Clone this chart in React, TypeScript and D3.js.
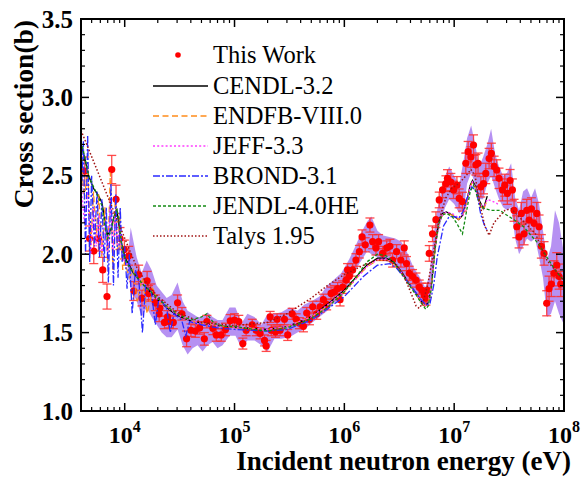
import React from 'react';
import * as d3 from 'd3';

// ---------- data ----------
const xTickExps = [4, 5, 6, 7, 8];
const yTickLabels = ['1.0', '1.5', '2.0', '2.5', '3.0', '3.5'];

// This Work: [energy eV, cross section b, uncertainty b]
const thisWork: [number, number, number][] = [
  [4.33e3, 2.53, 0.09], [4.78e3, 2.10, 0.08], [5.23e3, 2.02, 0.08], [5.77e3, 2.10, 0.08],
  [6.31e3, 1.90, 0.08], [6.90e3, 1.73, 0.08], [7.62e3, 2.54, 0.09], [8.34e3, 2.35, 0.09],
  [9.06e3, 2.10, 0.07], [9.93e3, 2.03, 0.06], [1.087e4, 1.99, 0.06], [1.21e4, 1.765, 0.06],
  [1.34e4, 1.87, 0.06], [1.435e4, 1.72, 0.05], [1.60e4, 1.83, 0.06], [1.65e4, 1.75, 0.05],
  [1.73e4, 1.76, 0.05], [1.90e4, 1.69, 0.05], [2.06e4, 1.62, 0.05], [2.09e4, 1.655, 0.05],
  [2.30e4, 1.565, 0.04], [2.46e4, 1.60, 0.04], [2.51e4, 1.57, 0.04], [2.77e4, 1.565, 0.04],
  [3.03e4, 1.69, 0.05], [3.32e4, 1.62, 0.04], [3.66e4, 1.46, 0.05], [4.01e4, 1.515, 0.04],
  [4.40e4, 1.51, 0.04], [4.81e4, 1.53, 0.04], [5.31e4, 1.46, 0.04], [5.60e4, 1.57, 0.04],
  [6.35e4, 1.527, 0.04], [6.82e4, 1.485, 0.04], [7.57e4, 1.485, 0.04], [8.28e4, 1.52, 0.04],
  [9.14e4, 1.575, 0.04], [1.0e5, 1.58, 0.04], [1.094e5, 1.57, 0.04], [1.19e5, 1.43, 0.035],
  [1.276e5, 1.515, 0.035], [1.45e5, 1.55, 0.035], [1.575e5, 1.515, 0.035], [1.71e5, 1.495, 0.035],
  [1.875e5, 1.45, 0.035], [1.94e5, 1.415, 0.035], [2.11e5, 1.60, 0.035], [2.16e5, 1.515, 0.035],
  [2.36e5, 1.505, 0.035], [2.44e5, 1.585, 0.035], [2.60e5, 1.515, 0.035], [2.85e5, 1.585, 0.035],
  [3.05e5, 1.485, 0.035], [3.35e5, 1.62, 0.035], [3.64e5, 1.585, 0.035], [3.90e5, 1.56, 0.035],
  [4.24e5, 1.54, 0.035], [4.54e5, 1.625, 0.035], [4.81e5, 1.585, 0.035], [5.15e5, 1.665, 0.035],
  [5.60e5, 1.62, 0.035], [6.01e5, 1.665, 0.035], [6.44e5, 1.71, 0.035], [6.90e5, 1.68, 0.035],
  [7.57e5, 1.75, 0.04], [8.11e5, 1.76, 0.04], [8.69e5, 1.78, 0.04], [9.14e5, 1.71, 0.04],
  [9.66e5, 1.79, 0.04], [1.035e6, 1.835, 0.04], [1.07e6, 1.90, 0.04], [1.11e6, 1.86, 0.04],
  [1.19e6, 1.90, 0.04], [1.275e6, 1.963, 0.04], [1.37e6, 2.016, 0.04], [1.45e6, 2.11, 0.045],
  [1.55e6, 2.06, 0.045], [1.71e6, 2.186, 0.045], [1.81e6, 2.08, 0.045], [1.94e6, 2.04, 0.045],
  [2.05e6, 2.08, 0.045], [2.23e6, 2.005, 0.045], [2.43e6, 2.04, 0.045], [2.60e6, 2.05, 0.045],
  [2.75e6, 1.963, 0.045], [2.99e6, 2.016, 0.045], [3.27e6, 1.963, 0.045], [3.51e6, 2.04, 0.045],
  [3.68e6, 1.94, 0.045], [3.90e6, 1.878, 0.045], [4.18e6, 1.857, 0.045], [4.49e6, 1.835, 0.045],
  [4.81e6, 1.79, 0.045], [5.08e6, 1.77, 0.045], [5.33e6, 1.74, 0.045], [5.53e6, 1.72, 0.045],
  [5.72e6, 1.77, 0.045], [5.93e6, 2.005, 0.05], [6.35e6, 2.13, 0.05], [6.82e6, 2.22, 0.05],
  [7.31e6, 2.346, 0.05], [7.84e6, 2.41, 0.05], [8.41e6, 2.45, 0.05], [8.69e6, 2.484, 0.055],
  [9.33e6, 2.46, 0.055], [9.86e6, 2.41, 0.055], [1.059e7, 2.44, 0.055], [1.11e7, 2.356, 0.06],
  [1.19e7, 2.335, 0.06], [1.276e7, 2.58, 0.065], [1.34e7, 2.654, 0.065], [1.42e7, 2.62, 0.065],
  [1.50e7, 2.696, 0.065], [1.574e7, 2.57, 0.065], [1.65e7, 2.58, 0.065], [1.75e7, 2.43, 0.065],
  [1.85e7, 2.45, 0.065], [1.94e7, 2.515, 0.065], [2.08e7, 2.61, 0.065], [2.18e7, 2.643, 0.065],
  [2.31e7, 2.56, 0.065], [2.44e7, 2.537, 0.065], [2.56e7, 2.484, 0.065], [2.75e7, 2.41, 0.07],
  [2.89e7, 2.44, 0.07], [3.05e7, 2.388, 0.07], [3.23e7, 2.47, 0.07], [3.39e7, 2.41, 0.07],
  [3.51e7, 2.28, 0.07], [3.72e7, 2.175, 0.07], [3.90e7, 2.11, 0.07], [4.09e7, 2.26, 0.07],
  [4.33e7, 2.13, 0.07], [4.58e7, 2.28, 0.07], [4.81e7, 2.218, 0.07], [5.05e7, 2.29, 0.07],
  [5.33e7, 2.197, 0.07], [5.65e7, 2.26, 0.07], [5.93e7, 2.175, 0.075], [6.22e7, 2.05, 0.075],
  [6.58e7, 2.005, 0.075], [6.96e7, 1.687, 0.08], [7.31e7, 1.78, 0.08], [7.67e7, 1.81, 0.08],
  [8.11e7, 1.878, 0.08], [8.59e7, 1.93, 0.08], [9.02e7, 1.857, 0.08], [9.33e7, 1.81, 0.08],
];

// uncertainty band: [energy, lower, upper]
const band: [number, number, number][] = [
  [1.065e4, 1.90, 1.98], [1.134e4, 1.78, 2.17], [1.285e4, 1.70, 1.98], [1.428e4, 1.60, 1.88],
  [1.585e4, 1.66, 1.96], [1.76e4, 1.60, 1.90], [1.953e4, 1.55, 1.80], [2.17e4, 1.50, 1.76],
  [2.41e4, 1.47, 1.72], [2.67e4, 1.47, 1.74], [3.03e4, 1.52, 1.82], [3.37e4, 1.42, 1.70],
  [3.74e4, 1.36, 1.64], [4.15e4, 1.40, 1.62], [4.61e4, 1.42, 1.60], [5.12e4, 1.38, 1.60],
  [5.68e4, 1.42, 1.63], [6.31e4, 1.44, 1.60], [7.0e4, 1.40, 1.58], [7.78e4, 1.42, 1.58],
  [9.01e4, 1.48, 1.66], [1.02e5, 1.48, 1.66], [1.16e5, 1.40, 1.56], [1.31e5, 1.45, 1.62],
  [1.52e5, 1.45, 1.60], [1.76e5, 1.42, 1.55], [2.0e5, 1.38, 1.62], [2.31e5, 1.46, 1.62],
  [2.67e5, 1.46, 1.63], [3.16e5, 1.47, 1.66], [3.74e5, 1.50, 1.64], [4.33e5, 1.52, 1.68],
  [5.01e5, 1.56, 1.70], [5.93e5, 1.60, 1.73], [7.0e5, 1.64, 1.80], [8.11e5, 1.69, 1.84],
  [9.39e5, 1.72, 1.88], [1.11e6, 1.82, 1.97], [1.26e6, 1.90, 2.05], [1.43e6, 1.96, 2.14],
  [1.62e6, 2.02, 2.21], [1.76e6, 2.00, 2.24], [2.0e6, 1.98, 2.15], [2.26e6, 1.96, 2.12],
  [2.57e6, 1.95, 2.11], [2.91e6, 1.93, 2.10], [3.30e6, 1.88, 2.08], [3.74e6, 1.84, 2.01],
  [4.24e6, 1.78, 1.92], [4.81e6, 1.72, 1.86], [5.45e6, 1.67, 1.79], [5.93e6, 1.70, 1.86],
  [6.44e6, 1.90, 2.10], [7.0e6, 2.10, 2.28], [7.62e6, 2.22, 2.40], [8.28e6, 2.30, 2.50],
  [9.01e6, 2.35, 2.56], [1.0e7, 2.32, 2.50], [1.11e7, 2.26, 2.44], [1.233e7, 2.30, 2.62],
  [1.31e7, 2.45, 2.74], [1.428e7, 2.52, 2.82], [1.553e7, 2.45, 2.70], [1.69e7, 2.35, 2.56],
  [1.835e7, 2.35, 2.62], [2.0e7, 2.45, 2.70], [2.17e7, 2.50, 2.80], [2.36e7, 2.42, 2.64],
  [2.56e7, 2.35, 2.56], [2.79e7, 2.30, 2.50], [3.03e7, 2.28, 2.52], [3.30e7, 2.30, 2.58],
  [3.59e7, 2.10, 2.36], [3.90e7, 2.00, 2.28], [4.24e7, 2.05, 2.40], [4.61e7, 2.10, 2.42],
  [5.01e7, 2.08, 2.36], [5.45e7, 2.10, 2.42], [5.93e7, 1.98, 2.32], [6.44e7, 1.85, 2.15],
  [7.0e7, 1.60, 1.96], [7.62e7, 1.62, 2.05], [8.28e7, 1.70, 2.28], [9.01e7, 1.62, 2.20],
  [1.0e8, 1.55, 2.0],
];

const cendl: [number, number][] = [
  [4.0e3, 2.70], [4.3e3, 2.62], [4.7e3, 2.50], [5.2e3, 2.42], [5.7e3, 2.38], [6.2e3, 2.33],
  [6.6e3, 2.22], [7.0e3, 2.12], [7.5e3, 2.16], [8.0e3, 2.24], [8.5e3, 2.28], [8.8e3, 2.20],
  [9.3e3, 2.08], [1.0e4, 1.98], [1.1e4, 1.93], [1.2e4, 1.88], [1.5e4, 1.80], [2.0e4, 1.71],
  [2.5e4, 1.65], [3.0e4, 1.61], [4.0e4, 1.575], [5.0e4, 1.56], [7.0e4, 1.545], [1.0e5, 1.535],
  [1.5e5, 1.525], [2.0e5, 1.52], [3.0e5, 1.54], [4.0e5, 1.57], [5.0e5, 1.60], [7.0e5, 1.68],
  [1.0e6, 1.77], [1.3e6, 1.86], [1.6e6, 1.93], [2.0e6, 1.975], [2.4e6, 1.975], [2.8e6, 1.95],
  [3.3e6, 1.89], [4.0e6, 1.80], [4.5e6, 1.75], [5.0e6, 1.70], [5.4e6, 1.67], [5.8e6, 1.69],
  [6.2e6, 1.80], [6.7e6, 2.05], [7.2e6, 2.20], [7.8e6, 2.26], [8.5e6, 2.27], [9.6e6, 2.25],
  [1.1e7, 2.22], [1.2e7, 2.25], [1.3e7, 2.34], [1.4e7, 2.44], [1.47e7, 2.47], [1.57e7, 2.43],
  [1.7e7, 2.34], [1.85e7, 2.29], [2.0e7, 2.37],
];

const endfb: [number, number][] = [
  [4.0e3, 2.60], [4.3e3, 2.35], [4.6e3, 2.55], [4.9e3, 2.05], [5.2e3, 2.40], [5.5e3, 2.10],
  [5.8e3, 2.38], [6.2e3, 1.98], [6.6e3, 2.30], [7.0e3, 1.95], [7.4e3, 2.52], [7.8e3, 1.90],
  [8.2e3, 2.35], [8.6e3, 2.00], [9.0e3, 2.25], [9.6e3, 1.90], [1.0e4, 1.95], [1.1e4, 1.85],
  [1.2e4, 1.90], [1.3e4, 1.70], [1.45e4, 1.85], [1.6e4, 1.62], [1.8e4, 1.78], [2.0e4, 1.70],
  [2.5e4, 1.66], [3.0e4, 1.62], [4.0e4, 1.575], [5.0e4, 1.56], [7.0e4, 1.545], [1.0e5, 1.535],
  [2.0e5, 1.52], [3.0e5, 1.54], [5.0e5, 1.60], [7.0e5, 1.67], [1.0e6, 1.76], [1.3e6, 1.85],
  [1.6e6, 1.92], [2.0e6, 1.96], [2.4e6, 1.965], [2.8e6, 1.94], [3.3e6, 1.88], [4.0e6, 1.80],
  [5.0e6, 1.70], [5.4e6, 1.67], [5.8e6, 1.69], [6.2e6, 1.80], [6.7e6, 2.04], [7.2e6, 2.19],
  [7.8e6, 2.25], [8.5e6, 2.26], [9.6e6, 2.25], [1.1e7, 2.22], [1.2e7, 2.25], [1.3e7, 2.33],
  [1.4e7, 2.43], [1.47e7, 2.46], [1.57e7, 2.42], [1.7e7, 2.33], [1.85e7, 2.28], [2.0e7, 2.35],
];

const jeff: [number, number][] = [
  [4.0e3, 2.45], [4.3e3, 2.20], [4.6e3, 2.40], [4.9e3, 2.00], [5.2e3, 2.30], [5.5e3, 2.05],
  [5.8e3, 2.25], [6.2e3, 2.00], [6.6e3, 2.20], [7.0e3, 1.98], [7.4e3, 2.35], [7.8e3, 2.00],
  [8.2e3, 2.25], [8.6e3, 2.05], [9.0e3, 2.20], [9.6e3, 1.95], [1.0e4, 1.96], [1.2e4, 1.88],
  [1.5e4, 1.80], [2.0e4, 1.71], [2.5e4, 1.655], [3.0e4, 1.615], [4.0e4, 1.575], [5.0e4, 1.56],
  [7.0e4, 1.545], [1.0e5, 1.535], [2.0e5, 1.52], [3.0e5, 1.54], [5.0e5, 1.60], [7.0e5, 1.675],
  [1.0e6, 1.765], [1.3e6, 1.85], [1.6e6, 1.92], [2.0e6, 1.965], [2.4e6, 1.97], [2.8e6, 1.945],
  [3.3e6, 1.885], [4.0e6, 1.80], [5.0e6, 1.70], [5.4e6, 1.67], [5.8e6, 1.69], [6.2e6, 1.80],
  [6.7e6, 2.04], [7.2e6, 2.19], [7.8e6, 2.25], [8.5e6, 2.27], [9.6e6, 2.26], [1.1e7, 2.23],
  [1.2e7, 2.25], [1.3e7, 2.33], [1.4e7, 2.43], [1.47e7, 2.46], [1.57e7, 2.42], [1.7e7, 2.33],
  [1.85e7, 2.29], [2.0e7, 2.35], [2.2e7, 2.34], [2.5e7, 2.32],
];

const brond: [number, number][] = [
  [4.0e3, 2.30], [4.2e3, 2.72], [4.4e3, 2.00], [4.6e3, 2.76], [4.8e3, 1.95], [5.0e3, 2.50],
  [5.3e3, 2.05], [5.6e3, 2.40], [5.9e3, 1.98], [6.2e3, 2.35], [6.5e3, 1.95], [6.8e3, 2.30],
  [7.1e3, 1.82], [7.5e3, 2.45], [7.9e3, 1.80], [8.3e3, 2.38], [8.7e3, 1.85], [9.1e3, 2.30],
  [9.5e3, 1.95], [1.0e4, 2.05], [1.05e4, 1.78], [1.1e4, 2.00], [1.17e4, 1.62], [1.25e4, 1.90],
  [1.35e4, 1.82], [1.45e4, 1.50], [1.55e4, 1.80], [1.75e4, 1.76], [1.9e4, 1.55], [2.05e4, 1.72],
  [2.4e4, 1.66], [2.6e4, 1.50], [2.8e4, 1.62], [3.3e4, 1.58], [3.6e4, 1.48], [3.9e4, 1.57],
  [5.0e4, 1.55], [7.0e4, 1.53], [1.0e5, 1.52], [2.0e5, 1.51], [3.0e5, 1.52], [5.0e5, 1.58],
  [7.0e5, 1.65], [1.0e6, 1.73], [1.5e6, 1.86], [2.0e6, 1.93], [2.6e6, 1.94], [3.0e6, 1.91],
  [4.0e6, 1.80], [5.0e6, 1.71], [5.5e6, 1.68], [6.0e6, 1.68], [6.5e6, 1.80], [7.0e6, 1.98],
  [8.0e6, 2.18], [9.0e6, 2.24], [1.0e7, 2.24], [1.1e7, 2.23], [1.2e7, 2.27], [1.3e7, 2.35],
  [1.45e7, 2.43], [1.6e7, 2.40], [1.75e7, 2.25], [1.9e7, 2.18], [2.0e7, 2.15],
];

const jendl: [number, number][] = [
  [4.0e3, 2.72], [4.3e3, 2.63], [4.7e3, 2.50], [5.2e3, 2.43], [5.7e3, 2.37], [6.2e3, 2.31],
  [6.6e3, 2.18], [7.0e3, 2.10], [7.5e3, 2.15], [8.0e3, 2.24], [8.5e3, 2.29], [8.8e3, 2.22],
  [9.3e3, 2.08], [1.0e4, 1.97], [1.1e4, 1.92], [1.2e4, 1.88], [1.5e4, 1.80], [2.0e4, 1.72],
  [2.5e4, 1.66], [3.0e4, 1.62], [4.0e4, 1.58], [5.0e4, 1.60], [5.6e4, 1.62], [6.5e4, 1.56],
  [8.0e4, 1.54], [1.0e5, 1.54], [1.5e5, 1.52], [2.0e5, 1.51], [3.0e5, 1.53], [4.0e5, 1.56],
  [5.0e5, 1.59], [7.0e5, 1.66], [1.0e6, 1.76], [1.3e6, 1.86], [1.6e6, 1.95], [2.0e6, 2.00],
  [2.4e6, 1.99], [2.8e6, 1.95], [3.3e6, 1.88], [4.0e6, 1.79], [4.5e6, 1.74], [5.0e6, 1.69],
  [5.5e6, 1.65], [5.8e6, 1.67], [6.2e6, 1.78], [6.7e6, 2.03], [7.2e6, 2.19], [7.8e6, 2.25],
  [8.5e6, 2.26], [9.6e6, 2.24], [1.05e7, 2.20], [1.19e7, 2.13], [1.3e7, 2.28], [1.4e7, 2.40],
  [1.5e7, 2.44], [1.6e7, 2.38], [1.75e7, 2.30], [1.9e7, 2.29], [2.2e7, 2.28], [2.6e7, 2.28],
  [3.0e7, 2.25], [3.5e7, 2.22], [4.3e7, 2.175], [5.0e7, 2.12], [5.8e7, 2.07], [7.0e7, 1.98],
  [8.5e7, 1.89], [1.0e8, 1.83],
];

const talys: [number, number][] = [
  [4.0e3, 2.79], [1.1e4, 2.03], [1.3e4, 1.91], [1.6e4, 1.81], [2.0e4, 1.73], [3.0e4, 1.63],
  [5.0e4, 1.565], [1.0e5, 1.545], [2.0e5, 1.565], [3.0e5, 1.62], [5.0e5, 1.72], [7.0e5, 1.80],
  [1.0e6, 1.87], [1.5e6, 1.93], [2.0e6, 1.965], [2.5e6, 1.96], [3.0e6, 1.93], [3.5e6, 1.86],
  [4.0e6, 1.76], [4.5e6, 1.67], [4.8e6, 1.655], [5.2e6, 1.69], [5.8e6, 1.82], [6.5e6, 2.02],
  [7.3e6, 2.22], [8.4e6, 2.36], [9.5e6, 2.42], [1.1e7, 2.45], [1.28e7, 2.50], [1.42e7, 2.54],
  [1.55e7, 2.50], [1.7e7, 2.33], [1.9e7, 2.18], [2.08e7, 2.12], [2.3e7, 2.20], [2.9e7, 2.28],
  [3.3e7, 2.29], [4.0e7, 2.23], [5.5e7, 2.13], [7.0e7, 1.96], [9.0e7, 1.87], [1.0e8, 1.83],
];

const curves = [
  { name: 'CENDL-3.2', data: cendl, color: '#000000', dash: '', width: 1.3 },
  { name: 'ENDFB-VIII.0', data: endfb, color: '#ff8c1a', dash: '6,3.5', width: 1.3 },
  { name: 'JEFF-3.3', data: jeff, color: '#ff3cff', dash: '2,2.2', width: 1.4 },
  { name: 'BROND-3.1', data: brond, color: '#2a2aff', dash: '7,2,2,2', width: 1.3 },
  { name: 'JENDL-4.0HE', data: jendl, color: '#138a13', dash: '3,2', width: 1.3 },
  { name: 'Talys 1.95', data: talys, color: '#a01414', dash: '1.5,2', width: 1.5 },
];

// ---------- layout ----------
const W = 582, H = 479;
const L = 81, R = 564, T = 19, B = 411;
const FONT = "'Liberation Serif', 'Times New Roman', Times, serif";

export default function App() {
  const x = d3.scaleLog().domain([4e3, 1e8]).range([L, R]);
  const y = d3.scaleLinear().domain([1, 3.5]).range([B, T]);
  const line = d3.line<[number, number]>().x(d => x(d[0])).y(d => y(d[1]));
  const area = d3.area<[number, number, number]>().x(d => x(d[0])).y0(d => y(d[1])).y1(d => y(d[2]));

  const xMajor = xTickExps.map(e => Math.pow(10, e));
  const xMinor: number[] = [];
  for (let e = 3; e < 8; e++) for (let m = 2; m <= 9; m++) {
    const v = m * Math.pow(10, e);
    if (v > 4e3 && v < 1e8) xMinor.push(v);
  }
  const yMajor = yTickLabels.map(Number);
  const yMinor = d3.range(1.1, 3.45, 0.1).filter(v => Math.abs(v * 2 - Math.round(v * 2)) > 0.01);

  const legendRows = curves.map((c, i) => ({ ...c, y: 86 + i * 30 }));

  return (
    <svg width={W} height={H} style={{ position: 'absolute', left: 0, top: 0, background: '#fff' }} fontFamily={FONT}>
      <defs>
        <clipPath id="plot"><rect x={L} y={T} width={R - L} height={B - T} /></clipPath>
      </defs>
      <g clipPath="url(#plot)">
        <path d={area(band) || ''} fill="#a97ef0" fillOpacity={0.85} stroke="none" />
        {thisWork.map((d, i) => {
          const cx = x(d[0]), cy = y(d[1]);
          const y0 = y(d[1] - d[2]), y1 = y(d[1] + d[2]);
          return (
            <g key={i} stroke="#ff2b2b" strokeWidth={1.3} strokeOpacity={0.85}>
              <line x1={cx} x2={cx} y1={y0} y2={y1} />
              <line x1={cx - 4.5} x2={cx + 4.5} y1={y0} y2={y0} />
              <line x1={cx - 4.5} x2={cx + 4.5} y1={y1} y2={y1} />
            </g>
          );
        })}
        {thisWork.map((d, i) => (
          <circle key={i} cx={x(d[0])} cy={y(d[1])} r={3.6} fill="#ff0000" />
        ))}
        {curves.map(c => (
          <path key={c.name} d={line(c.data) || ''} fill="none" stroke={c.color}
            strokeWidth={c.width} strokeDasharray={c.dash || undefined} />
        ))}
      </g>

      {/* frame */}
      <rect x={L} y={T} width={R - L} height={B - T} fill="none" stroke="#000" strokeWidth={2} />

      {/* x ticks */}
      {xMajor.map(v => (
        <g key={'xM' + v} stroke="#000" strokeWidth={1.5}>
          <line x1={x(v)} x2={x(v)} y1={B} y2={B - 8} />
          <line x1={x(v)} x2={x(v)} y1={T} y2={T + 8} />
        </g>
      ))}
      {xMinor.map(v => (
        <g key={'xm' + v} stroke="#000" strokeWidth={1.2}>
          <line x1={x(v)} x2={x(v)} y1={B} y2={B - 4} />
          <line x1={x(v)} x2={x(v)} y1={T} y2={T + 4} />
        </g>
      ))}
      {/* y ticks */}
      {yMajor.map(v => (
        <g key={'yM' + v} stroke="#000" strokeWidth={1.5}>
          <line x1={L} x2={L + 8} y1={y(v)} y2={y(v)} />
          <line x1={R} x2={R - 8} y1={y(v)} y2={y(v)} />
        </g>
      ))}
      {yMinor.map(v => (
        <g key={'ym' + v} stroke="#000" strokeWidth={1.2}>
          <line x1={L} x2={L + 4} y1={y(v)} y2={y(v)} />
          <line x1={R} x2={R - 4} y1={y(v)} y2={y(v)} />
        </g>
      ))}

      {/* tick labels */}
      {yTickLabels.map(t => (
        <text key={t} x={73} y={y(Number(t)) + 8.5} textAnchor="end" fontSize={25} fontWeight="bold">{t}</text>
      ))}
      {xTickExps.map(e => (
        <text key={e} x={x(Math.pow(10, e))} y={443} textAnchor="middle" fontSize={24} fontWeight="bold">
          10<tspan dy={-11} fontSize={16}>{e}</tspan>
        </text>
      ))}

      {/* axis titles */}
      <text x={571} y={470} textAnchor="end" fontSize={27} fontWeight="bold">Incident neutron energy (eV)</text>
      <text transform={`translate(33,20) rotate(-90)`} textAnchor="end" fontSize={27.5} fontWeight="bold">Cross section(b)</text>

      {/* legend */}
      <circle cx={178} cy={55} r={2.8} fill="#ff0000" />
      <text x={213} y={63} fontSize={24.5}>This Work</text>
      {legendRows.map(r => (
        <g key={r.name}>
          <line x1={153} x2={208} y1={r.y} y2={r.y} stroke={r.color} strokeWidth={r.width}
            strokeDasharray={r.dash || undefined} />
          <text x={213} y={r.y + 8} fontSize={24.5}>{r.name}</text>
        </g>
      ))}
    </svg>
  );
}
